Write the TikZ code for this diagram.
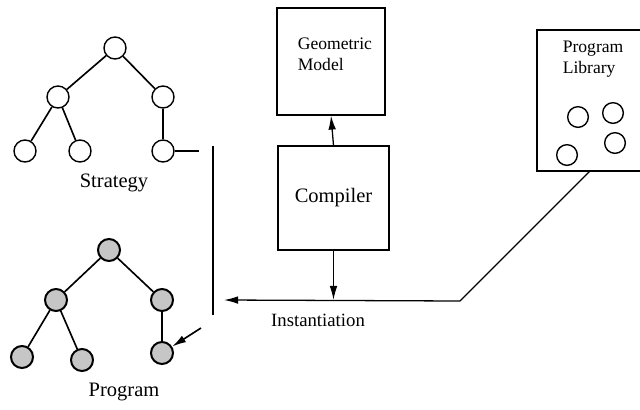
\documentclass[tikz,border=0pt]{standalone}
\usepackage{fontspec}
\setmainfont{Liberation Serif}
\usepackage{tikz}
\usetikzlibrary{arrows,arrows.meta,calc}
\usetikzlibrary{positioning}

\tikzset{
    leaf/.style={circle, draw, line width=1.2pt, minimum size=0.66cm, inner sep=0pt},
    filledleaf/.style={leaf, fill=gray!45, line width=1.7pt},
    box/.style={rectangle, draw, line width=0.9pt, inner sep=0pt},
    lbl/.style={font=\fontsize{15}{18}\selectfont, inner sep=0pt},
    biglbl/.style={font=\fontsize{17.5}{20}\selectfont, inner sep=0pt},
}

\begin{document}
\begin{tikzpicture}[x=0.03cm, y=-0.03cm, >={Latex[length=12pt,width=6.5pt]}, line width=1.4pt]
            \clip (0,0) rectangle (640,409);
            % strategy tree
            \node[leaf] at (115,48) (s1) {};
            \node[leaf] at (58,97) (s2) {};
            \node[leaf] at (163,97) (s3) {};
            \node[leaf] at (25,151) (s4) {};
            \node[leaf] at (80,151) (s5) {};
            \node[leaf] at (163,151) (s6) {};
            \draw (s1) -- (s2);
            \draw (s1) -- (s3);
            \draw (s2) -- (s4);
            \draw (s2) -- (s5);
            \draw (s3) -- (s6);
            \coordinate (stail) at (199,151);
            \draw[line width=1.1pt] (s6) -- (stail);
            \node[biglbl] at (114,183) (strategy) {Strategy};
            % program tree
            \node[filledleaf] at (109,250) (p1) {};
            \node[filledleaf] at (56,300) (p2) {};
            \node[filledleaf] at (162,300) (p3) {};
            \node[filledleaf] at (22,357) (p4) {};
            \node[filledleaf] at (82,360) (p5) {};
            \node[filledleaf] at (162,353) (p6) {};
            \draw (p1) -- (p2);
            \draw (p1) -- (p3);
            \draw (p2) -- (p4);
            \draw (p2) -- (p5);
            \draw (p3) -- (p6);
            \node[biglbl] at (124,392) (program) {Program};
            \coordinate (ptail) at (201,328);
            \draw[->] (ptail) -- (p6);
            % divider
            \coordinate (divtop) at (213,146);
            \coordinate (divbot) at (213,315);
            \draw (divtop) -- (divbot);
            % boxes
            \node[box, minimum width=3.24cm, minimum height=3.21cm] at (331,61.5) (geom) {};
            \node[lbl, anchor=north west, align=left] at (297,37) (geomtext) {Geometric\\Model};
            \node[box, minimum width=3.33cm, minimum height=3.12cm, biglbl] at (333.5,198) (comp) {Compiler};
            \node[box, minimum width=3.6cm, minimum height=4.23cm] at (597,100.5) (lib) {};
            \node[lbl, anchor=north west, align=left] at (562,40) (libtext) {Program\\Library};
            \node[leaf, minimum size=0.62cm] at (578,117) (l1) {};
            \node[leaf, minimum size=0.62cm] at (613,113) (l2) {};
            \node[leaf, minimum size=0.62cm] at (615,143) (l3) {};
            \node[leaf, minimum size=0.62cm] at (567,155) (l4) {};
            % connectors
            \coordinate (libfoot) at ($(lib.south west)+(53,0)$);
            \coordinate (bend) at (460,301);
            \coordinate (inst) at (224,300);
            \draw[->, line width=1.1pt] (comp.north) -- (geom.south);
            \draw[line width=1.1pt] (libfoot) -- (bend);
            \draw[->, line width=1.1pt] (bend) -- (inst);
            \draw[->, line width=1.1pt] (comp.south) -- (comp.south |- inst);
            \node[biglbl, font=\fontsize{16}{18}\selectfont] at (318,320) (insttext) {Instantiation};
\end{tikzpicture}
\end{document}
